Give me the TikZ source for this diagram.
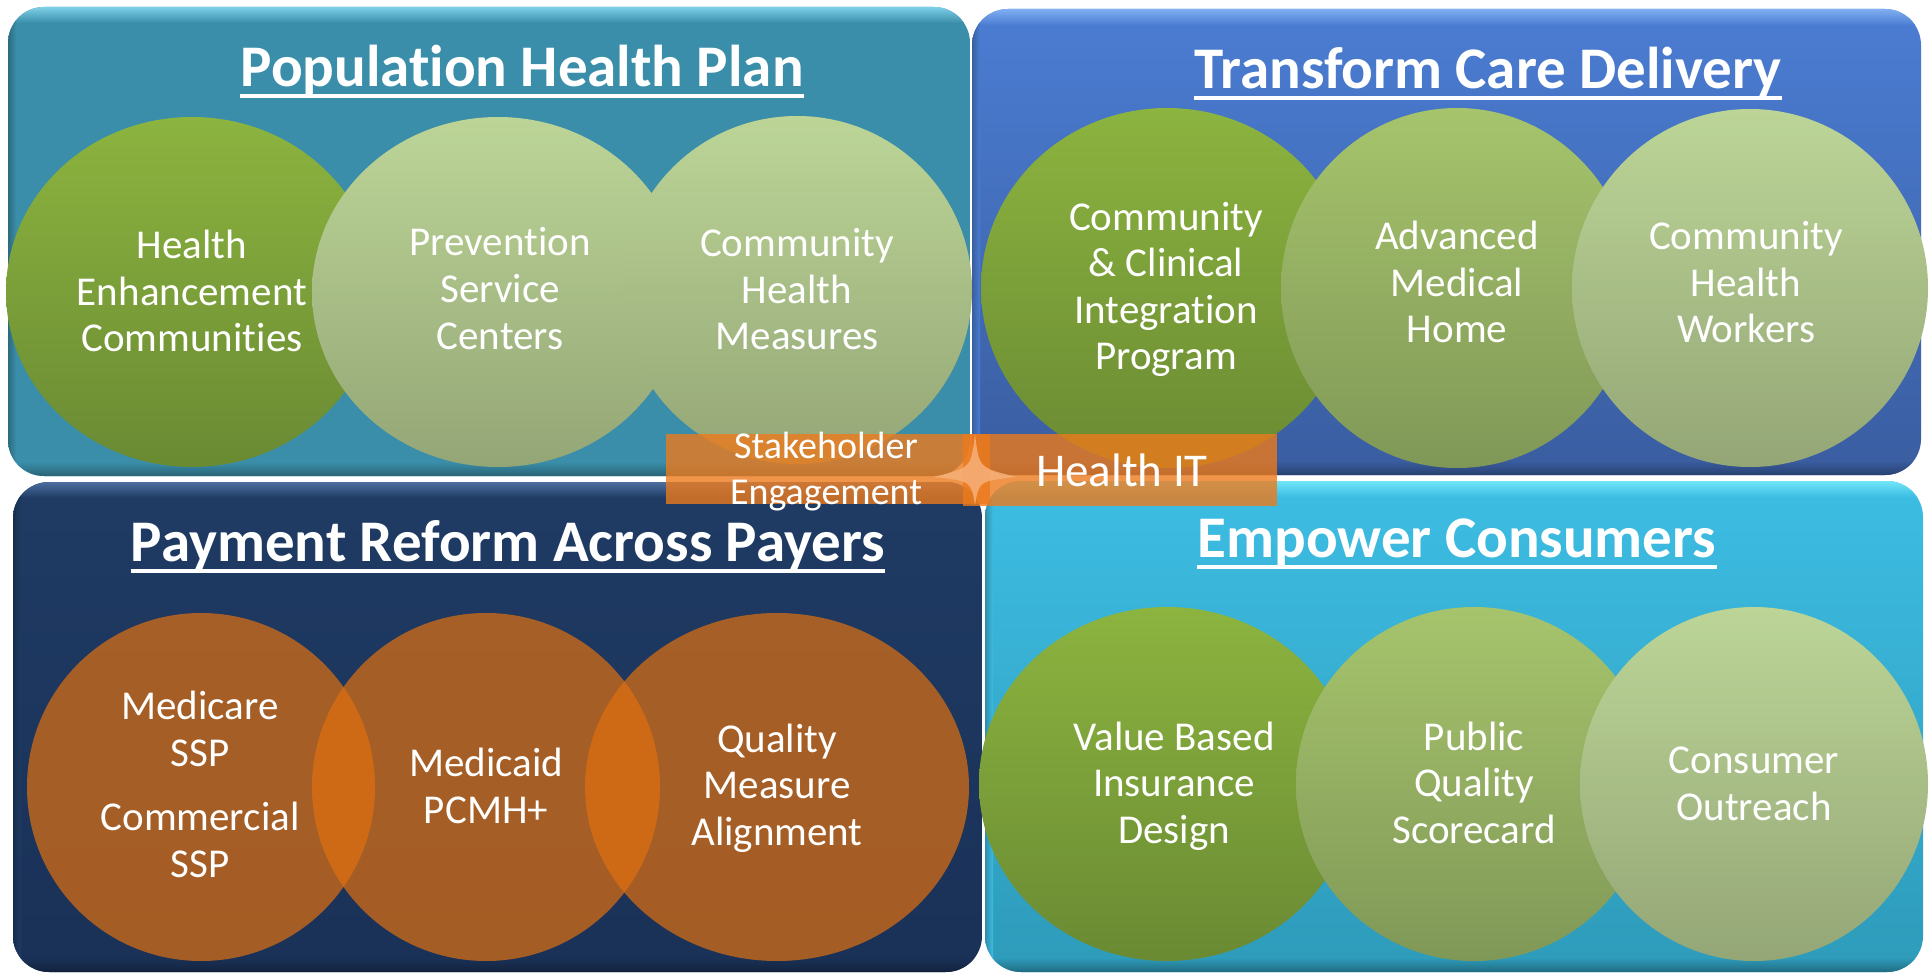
\documentclass[tikz,border=0pt]{standalone}
\usepackage{fontspec}
\setmainfont{Carlito}[Ligatures={NoCommon}]
\usetikzlibrary{shapes.geometric}

% panel colours
\definecolor{tealBase}{HTML}{3A8EA9}
\definecolor{tealHi}{HTML}{7DD0E8}
\definecolor{tealLow}{HTML}{2F7A93}
\definecolor{blueTop}{HTML}{4B7DD3}
\definecolor{blueBot}{HTML}{3A5DA0}
\definecolor{blueHi}{HTML}{80AEF2}
\definecolor{navyBase}{HTML}{1F3B64}
\definecolor{navyHi}{HTML}{4D6E9E}
\definecolor{navyLow}{HTML}{1A3157}
\definecolor{cyanTop}{HTML}{3DBDE3}
\definecolor{cyanBot}{HTML}{2E9BBA}
\definecolor{cyanHi}{HTML}{70E6F8}
% bubble colours
\definecolor{gDarkTop}{HTML}{8CB43F}
\definecolor{gDarkBot}{HTML}{6A8A33}
\definecolor{gMidTop}{HTML}{A6C46C}
\definecolor{gMidBot}{HTML}{809857}
\definecolor{gLightTop}{HTML}{BCD597}
\definecolor{gLightBot}{HTML}{94A676}
\definecolor{payOrange}{HTML}{E0700F}
\definecolor{bandOrange}{HTML}{EC7A1C}
\definecolor{starPeach}{HTML}{F6B07A}

% a rounded panel with a vertical gradient, a light top rim and a dark bottom rim
\newcommand\panelbox[7]{%
  \begin{scope}
    \clip[rounded corners=36pt] (#1,#2) rectangle (#3,#4);
    \shade[top color=#5, bottom color=#6] (#1,#2) rectangle (#3,#4);
    \shade[top color=#7, bottom color=#5] (#1,#2) rectangle (#3,{#2+16});
    \shade[top color=#6, bottom color=#6!70!black] (#1,{#4-14}) rectangle (#3,#4);
    \shade[left color=#5!75!black, right color=#5] (#1,#2) rectangle ({#1+8},#4);
  \end{scope}}

\tikzset{
  bubble/.style={ellipse, draw=none, inner sep=0pt},
  darkbub/.style={bubble, top color=gDarkTop, bottom color=gDarkBot},
  midbub/.style={bubble, top color=gMidTop, bottom color=gMidBot},
  lightbub/.style={bubble, top color=gLightTop, bottom color=gLightBot},
  paybub/.style={bubble, fill=payOrange, fill opacity=0.7},
  band/.style={rectangle, draw=none, inner sep=0pt, fill=bandOrange, fill opacity=0.8},
  % multi-line labels are anchored at the baseline of their last line
  bubtext/.style={text=white, align=center, anchor=base, inner sep=0pt,
    font=\fontsize{41}{46.5}\selectfont},
  bandtext/.style={text=white, align=center, anchor=base, inner sep=0pt},
  paneltitle/.style={text=white, anchor=base, inner sep=0pt,
    font=\fontsize{59}{59}\selectfont\bfseries},
  titleline/.style={white, line width=4pt}
}

\begin{document}
\begin{tikzpicture}[x=1pt, y=-1pt]
\useasboundingbox (0,0) rectangle (1931,976);
\fill[white] (0,0) rectangle (1931,976);

% four panels
\panelbox{8}{7}{970}{476}{tealBase}{tealBase}{tealHi}
\panelbox{972}{9}{1921}{475}{blueTop}{blueBot}{blueHi}
\panelbox{13}{482}{982}{972}{navyBase}{navyLow}{navyHi}
\panelbox{985}{481}{1923}{972}{cyanTop}{cyanBot}{cyanHi}

% Population Health Plan bubbles
\node[darkbub,  minimum width=372pt, minimum height=350pt] (hec) at (192,292) {};
\node[lightbub, minimum width=372pt, minimum height=350pt] (psc) at (498,292) {};
\node[lightbub, minimum width=350pt, minimum height=348pt] (chm) at (797,290) {};

% Transform Care Delivery bubbles
\node[darkbub,  minimum width=372pt, minimum height=360pt] (cci) at (1167,288) {};
\node[midbub,   minimum width=352pt, minimum height=360pt] (amh) at (1457,288) {};
\node[lightbub, minimum width=356pt, minimum height=358pt] (chw) at (1750,288) {};

% Empower Consumers bubbles
\node[darkbub,  minimum width=376pt, minimum height=354pt] (vbi) at (1167,784) {};
\node[midbub,   minimum width=356pt, minimum height=354pt] (pqs) at (1474,784) {};
\node[lightbub, minimum width=348pt, minimum height=354pt] (cout) at (1754,784) {};

% Payment Reform bubbles (translucent, overlaps show brighter)
\node[paybub, minimum width=348pt, minimum height=348pt] (mssp) at (201,787) {};
\node[paybub, minimum width=348pt, minimum height=348pt] (pcmh) at (486,787) {};
\node[paybub, minimum width=384pt, minimum height=348pt] (qma)  at (777,787) {};

% panel titles
\node[paneltitle] (tpop) at (522,87)   {Population Health Plan};
\node[paneltitle] (ttcd) at (1488,89)  {Transform Care Delivery};
\node[paneltitle] (tpay) at (508,561)  {Payment Reform Across Payers};
\node[paneltitle] (temp) at (1457,557) {Empower Consumers};
\foreach \t in {tpop,ttcd,tpay,temp}
  \draw[titleline] ([yshift=-9.5pt]\t.base west) -- ([yshift=-9.5pt]\t.base east);

% bubble labels
\node[bubtext] (lhec) at (192,352)   {Health\\Enhancement\\Communities};
\node[bubtext] (lpsc) at (500,349)   {Prevention\\Service\\Centers};
\node[bubtext] (lchm) at (797,350)   {Community\\Health\\Measures};
\node[bubtext] (lcci) at (1166,370)  {Community\\\& Clinical\\Integration\\Program};
\node[bubtext] (lamh) at (1457,343)  {Advanced\\Medical\\Home};
\node[bubtext] (lchw) at (1746,343)  {Community\\Health\\Workers};
\node[bubtext] (lvbi) at (1174,843)  {Value Based\\Insurance\\Design};
\node[bubtext] (lpqs) at (1474,843)  {Public\\Quality\\Scorecard};
\node[bubtext] (lcout) at (1754,820) {Consumer\\Outreach};
\node[bubtext] (lmssp) at (200,877)  {Medicare\\SSP\\[18pt]Commercial\\SSP};
\node[bubtext] (lpcmh) at (486,823)  {Medicaid\\PCMH+};
\node[bubtext] (lqma) at (777,845)   {Quality\\Measure\\Alignment};

% cross-cutting band in the middle
\node[band, minimum width=324pt, minimum height=70pt] (seband) at (828,469) {};
\node[band, minimum width=314pt, minimum height=72pt] (hitband) at (1120,470) {};
\fill[starPeach, fill opacity=0.85]
  (975,434) .. controls (979,468) .. (1017,477)
  .. controls (979,481) .. (975,505)
  .. controls (971,481) .. (933,477)
  .. controls (971,468) .. (975,434) -- cycle;
\node[bandtext, font=\fontsize{38}{46}\selectfont] (lse) at (826,504) {Stakeholder\\Engagement};
\node[bandtext, font=\fontsize{47}{47}\selectfont] (lhit) at (1122,486) {Health IT};

\end{tikzpicture}
\end{document}
